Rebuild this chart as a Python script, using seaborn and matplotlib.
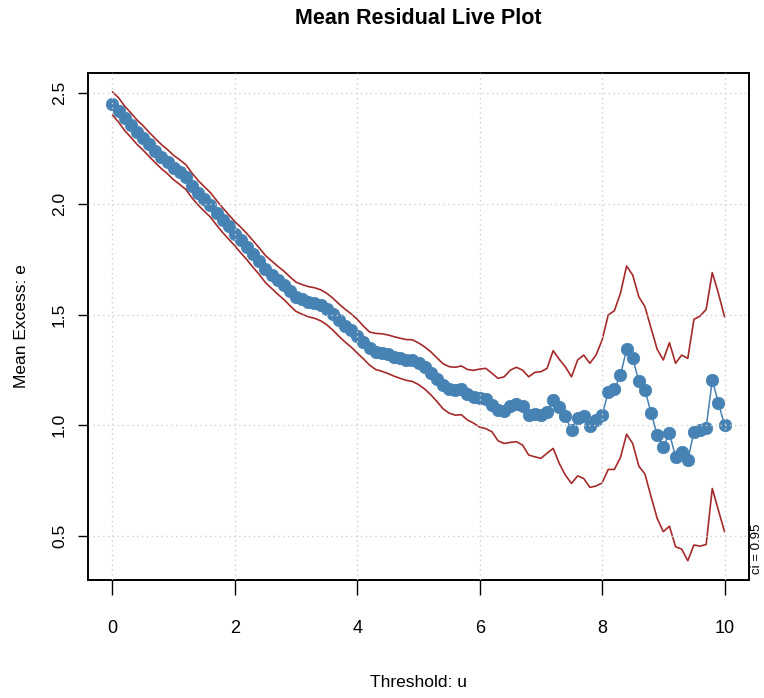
import matplotlib
matplotlib.use("Agg")
import matplotlib.pyplot as plt
from matplotlib import font_manager
import seaborn as sns
import pandas as pd

# thresholds u = 0.0, 0.1, ..., 10.0
threshold = [round(0.1 * i, 1) for i in range(101)]

mean_excess = [
    2.452, 2.420, 2.385, 2.355, 2.323, 2.297, 2.268, 2.240, 2.213, 2.190,
    2.163, 2.142, 2.120, 2.082, 2.050, 2.022, 1.995, 1.960, 1.927, 1.900,
    1.865, 1.835, 1.805, 1.772, 1.740, 1.705, 1.680, 1.655, 1.632, 1.605,
    1.580, 1.568, 1.558, 1.552, 1.542, 1.525, 1.502, 1.475, 1.450, 1.428,
    1.402, 1.377, 1.350, 1.332, 1.327, 1.320, 1.310, 1.302, 1.295, 1.293,
    1.280, 1.262, 1.238, 1.210, 1.180, 1.163, 1.158, 1.163, 1.140, 1.130,
    1.122, 1.118, 1.090, 1.068, 1.065, 1.088, 1.097, 1.085, 1.047, 1.050,
    1.046, 1.062, 1.113, 1.082, 1.040, 0.978, 1.035, 1.042, 0.995, 1.022,
    1.045, 1.151, 1.162, 1.227, 1.343, 1.302, 1.200, 1.159, 1.057, 0.956,
    0.903, 0.964, 0.858, 0.881, 0.843, 0.971, 0.979, 0.990, 1.204, 1.102,
    1.000,
]

ci_upper = [
    2.505, 2.478, 2.440, 2.410, 2.378, 2.352, 2.322, 2.294, 2.267, 2.244,
    2.218, 2.198, 2.176, 2.138, 2.105, 2.077, 2.050, 2.015, 1.982, 1.950,
    1.919, 1.893, 1.864, 1.832, 1.800, 1.766, 1.742, 1.718, 1.696, 1.670,
    1.646, 1.635, 1.626, 1.621, 1.612, 1.596, 1.574, 1.548, 1.524, 1.503,
    1.478, 1.448, 1.421, 1.415, 1.413, 1.408, 1.400, 1.393, 1.387, 1.386,
    1.372, 1.354, 1.332, 1.305, 1.278, 1.265, 1.262, 1.268, 1.252, 1.248,
    1.254, 1.257, 1.235, 1.212, 1.219, 1.249, 1.262, 1.249, 1.219, 1.239,
    1.242, 1.257, 1.337, 1.298, 1.264, 1.219, 1.295, 1.317, 1.280, 1.317,
    1.385, 1.498, 1.517, 1.596, 1.719, 1.678, 1.580, 1.535, 1.438, 1.343,
    1.295, 1.373, 1.280, 1.317, 1.302, 1.478, 1.493, 1.523, 1.689, 1.596,
    1.490,
]

ci_lower = [
    2.400, 2.368, 2.330, 2.300, 2.268, 2.242, 2.213, 2.185, 2.158, 2.135,
    2.108, 2.087, 2.064, 2.026, 1.994, 1.966, 1.940, 1.904, 1.870, 1.840,
    1.810, 1.777, 1.746, 1.712, 1.680, 1.644, 1.618, 1.592, 1.568, 1.540,
    1.514, 1.501, 1.490, 1.483, 1.472, 1.454, 1.430, 1.402, 1.376, 1.353,
    1.326, 1.300, 1.272, 1.252, 1.244, 1.234, 1.222, 1.212, 1.203, 1.198,
    1.184, 1.164, 1.138, 1.108, 1.075, 1.055, 1.046, 1.048, 1.024, 1.010,
    0.992, 0.985, 0.971, 0.930, 0.918, 0.923, 0.926, 0.911, 0.866, 0.858,
    0.851, 0.874, 0.896, 0.828, 0.775, 0.738, 0.772, 0.760, 0.720, 0.726,
    0.740, 0.801, 0.801, 0.855, 0.960, 0.918, 0.816, 0.780, 0.678, 0.580,
    0.520, 0.545, 0.452, 0.441, 0.389, 0.460, 0.455, 0.462, 0.715, 0.617,
    0.520,
]

df = pd.DataFrame({
    "u": threshold,
    "mean": mean_excess,
    "upper": ci_upper,
    "lower": ci_lower,
})

sns.set_theme(style="white")
plt.rcParams["font.family"] = ["Liberation Sans", "DejaVu Sans"]
plt.rcParams["text.color"] = "black"
plt.rcParams["axes.labelcolor"] = "black"
plt.rcParams["xtick.color"] = "black"
plt.rcParams["ytick.color"] = "black"

# the horizontal texts in the reference look condensed
installed = {f.name for f in font_manager.fontManager.ttflist}
if "Liberation Sans Narrow" in installed:
    narrow = ["Liberation Sans Narrow", "Liberation Sans"]
    title_size, xtick_size, xlab_size = 18, 15, 14
else:
    narrow = ["Liberation Sans", "DejaVu Sans"]
    title_size, xtick_size, xlab_size = 15.5, 13, 12.5

fig = plt.figure(figsize=(7.64, 6.98), dpi=100)
ax = fig.add_axes([88 / 764, 1 - 580 / 698, 661 / 764, 507 / 698])

ci_color = "#A52A2A"
pt_color = "#4682B4"

sns.lineplot(data=df, x="u", y="upper", color=ci_color, lw=1.2, ax=ax)
sns.lineplot(data=df, x="u", y="lower", color=ci_color, lw=1.2, ax=ax)
sns.lineplot(data=df, x="u", y="mean", color=pt_color, lw=1.1,
             marker="o", markersize=9, markeredgecolor=pt_color,
             markeredgewidth=0.5, ax=ax)

ax.set_xlim(-0.4, 10.4)
ax.set_ylim(0.302, 2.59)
ax.set_xticks([0, 2, 4, 6, 8, 10])
ax.set_xticklabels(["0", "2", "4", "6", "8", "10"], family=narrow)
ax.set_yticks([0.5, 1.0, 1.5, 2.0, 2.5])
ax.set_yticklabels(["0.5", "1.0", "1.5", "2.0", "2.5"], rotation=90, va="center")

ax.grid(True, color="#cfcfcf", linestyle=(0, (1, 2.5)), lw=1.0)
ax.set_axisbelow(False)

for s in ax.spines.values():
    s.set_color("black")
    s.set_linewidth(1.4)

ax.tick_params(axis="x", direction="out", length=10.8, width=1.0,
               pad=18, labelsize=xtick_size, bottom=True)
ax.tick_params(axis="y", direction="out", length=7.2, width=1.0,
               pad=8, labelsize=12.5, left=True)

ax.set_xlabel("Threshold: u", fontsize=xlab_size, family=narrow)
ax.set_ylabel("Mean Excess: e", fontsize=12.5)
ax.xaxis.set_label_coords(0.5, -0.187)
ax.yaxis.set_label_coords(-0.09, 0.5)

fig.text(0.5 * (88 + 749) / 764, 1 - 18 / 698, "Mean Residual Live Plot",
         ha="center", va="center", fontsize=title_size, fontweight="bold",
         family=narrow)
fig.text(757 / 764, 1 - 549 / 698, "ci = 0.95", rotation=90,
         ha="center", va="center", fontsize=9.5)

fig.savefig("out.png", dpi=100)
